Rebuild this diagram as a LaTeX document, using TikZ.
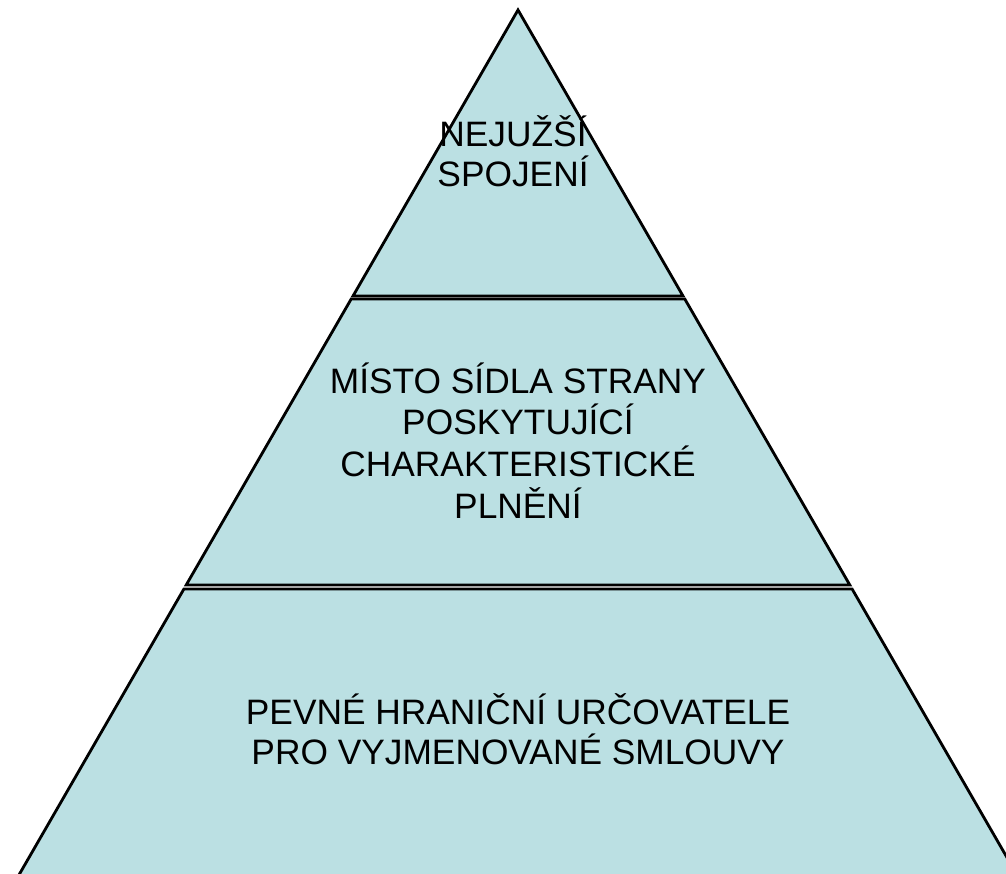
\documentclass[tikz,border=0pt]{standalone}
\usepackage{fontspec}
\setmainfont{Liberation Sans}
\definecolor{layerfill}{HTML}{BBE0E3}
\tikzset{
  layer/.style={draw=black, fill=layerfill, line width=1.6pt, line join=miter},
  layertext/.style={align=center, inner sep=0pt, anchor=base,
    font=\fontsize{20.1}{22.6}\selectfont}
}

\begin{document}
\begin{tikzpicture}[x=0.02cm, y=-0.02cm]
  \useasboundingbox (0,0) rectangle (1006,874);
  \clip (0,0) rectangle (1006,874);

  % three stacked layers of one triangle
  \draw[layer] (518,10) coordinate (apex)
    -- (353,296) coordinate (tl) -- (683,296) coordinate (tr) -- cycle;
  \draw[layer] (351.2,299) coordinate (ml) -- (684.8,299) coordinate (mr)
    -- (849.8,585) coordinate (mbr) -- (186.2,585) coordinate (mbl) -- cycle;
  \draw[layer] (183.9,589) coordinate (bl) -- (852.1,589) coordinate (br)
    -- (1031.5,900) -- (4.5,900) -- cycle;

  % anchor=base sits on the last line
  \node[layertext] (top) at (513,186.5) {NEJUŽŠÍ\\SPOJENÍ};
  \node[layertext, font=\fontsize{20.1}{23.7}\selectfont] (mid) at (518,518)
    {MÍSTO SÍDLA STRANY\\POSKYTUJÍCÍ\\CHARAKTERISTICKÉ\\PLNĚNÍ};
  \node[layertext] (bot) at (518,764)
    {PEVNÉ HRANIČNÍ URČOVATELE\\PRO VYJMENOVANÉ SMLOUVY};
\end{tikzpicture}
\end{document}
